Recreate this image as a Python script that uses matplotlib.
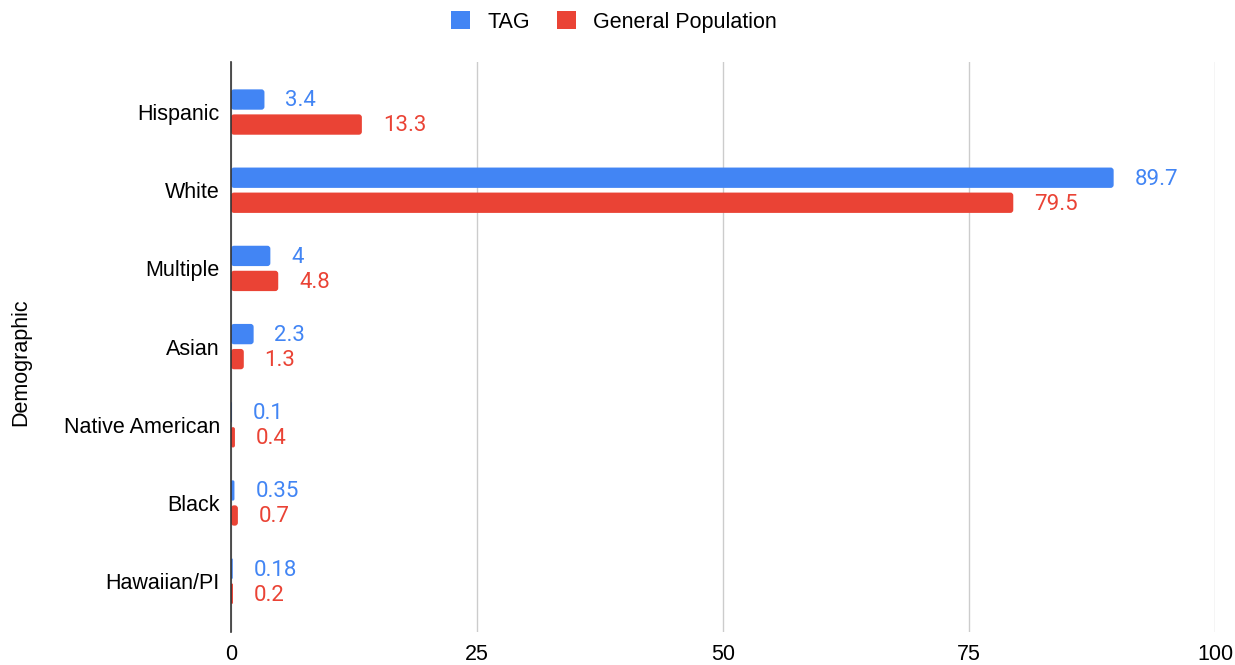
import matplotlib
matplotlib.use("Agg")
import matplotlib.pyplot as plt
from matplotlib.patches import Patch, FancyBboxPatch
import numpy as np

categories = ["Hispanic", "White", "Multiple", "Asian", "Native American", "Black", "Hawaiian/PI"]
tag_values = [3.4, 89.7, 4, 2.3, 0.1, 0.35, 0.18]
gen_values = [13.3, 79.5, 4.8, 1.3, 0.4, 0.7, 0.2]
tag_labels = ["3.4", "89.7", "4", "2.3", "0.1", "0.35", "0.18"]
gen_labels = ["13.3", "79.5", "4.8", "1.3", "0.4", "0.7", "0.2"]
x_ticks = [0, 25, 50, 75, 100]
series_names = ["TAG", "General Population"]

BLUE = "#4285F4"
RED = "#EA4335"
FS = 15.5

fig = plt.figure(figsize=(12.35, 6.65), dpi=100)
ax = fig.add_axes([231/1235, 1-632/665, (1215-231)/1235, 570/665])

ax.set_xlim(0, 100)
ax.set_ylim(6.65, -0.64)

y = np.arange(len(categories))
h = 0.26
off = 0.16
c1 = ax.barh(y - off, tag_values, height=h, color=BLUE, zorder=3)
c2 = ax.barh(y + off, gen_values, height=h, color=RED, zorder=3)

# round the bar corners (~3px)
px_x = 984 / 100.0   # pixels per x unit
px_y = 570 / 7.29    # pixels per y unit
aspect = px_x / px_y
for cont, col in ((c1, BLUE), (c2, RED)):
    for p in cont.patches:
        x0, y0 = p.get_x(), p.get_y()
        w, hh = p.get_width(), p.get_height()
        r = min(3 / px_x, w / 2)
        p.set_visible(False)
        fb = FancyBboxPatch((x0, y0), w, hh,
                            boxstyle=f"round,pad=0,rounding_size={r}",
                            mutation_aspect=aspect, facecolor=col,
                            edgecolor="none", zorder=3)
        ax.add_patch(fb)

for yi, v, lab in zip(y, tag_values, tag_labels):
    ax.annotate(lab, (v, yi - off), xytext=(15, -1), textcoords="offset points",
                va="center", ha="left", color=BLUE, fontsize=16, family="Roboto")
for yi, v, lab in zip(y, gen_values, gen_labels):
    ax.annotate(lab, (v, yi + off), xytext=(15, -1), textcoords="offset points",
                va="center", ha="left", color=RED, fontsize=16, family="Roboto")

ax.set_xticks(x_ticks)
ax.set_xticklabels([str(t) for t in x_ticks], fontsize=FS, family="Liberation Sans")
ax.set_yticks(y)
ax.set_yticklabels(categories, fontsize=FS, family="Liberation Sans")
ax.tick_params(axis="both", length=0, pad=9)
ax.tick_params(axis="y", pad=8)
ax.grid(axis="x", color="#cccccc", linewidth=1, zorder=0)
for s in ["top", "right", "bottom"]:
    ax.spines[s].set_visible(False)
ax.spines["left"].set_color("#333333")
ax.spines["left"].set_linewidth(1.2)
ax.spines["left"].set_zorder(4)

fig.text(21/1235, 1-362/665, "Demographic", rotation=90, va="center", ha="center",
         fontsize=FS, family="Liberation Sans")

handles = [Patch(facecolor=BLUE, label=series_names[0]),
           Patch(facecolor=RED, label=series_names[1])]
fig.legend(handles=handles, loc="center", bbox_to_anchor=(614/1235, 1-22/665), ncol=2,
           frameon=False, handlelength=0.9, handleheight=0.9, handletextpad=0.8,
           columnspacing=1.25, prop={"family": "Liberation Sans", "size": FS})

fig.savefig("out.png", dpi=100, facecolor="white")
